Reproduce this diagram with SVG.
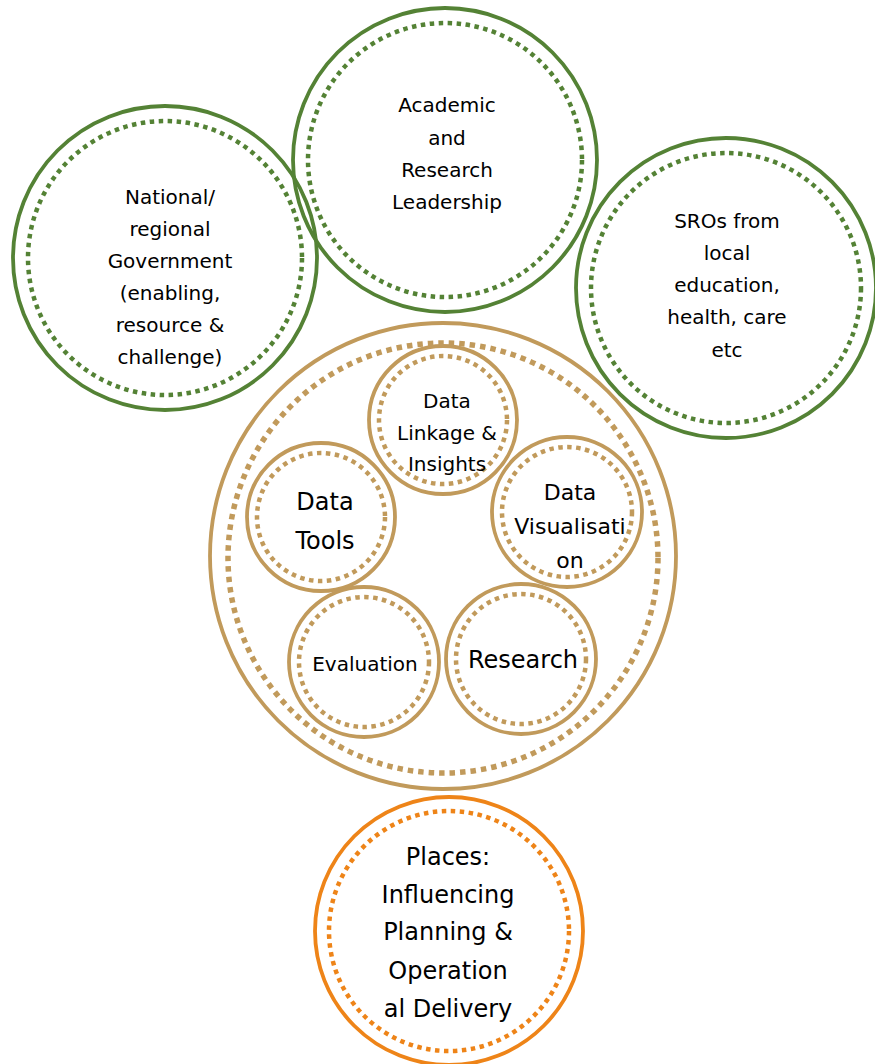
<svg xmlns="http://www.w3.org/2000/svg" width="875" height="1064" viewBox="0 0 875 1064">
  <style>
    .bg { fill: #ffffff; }
    .ring { fill: none; }
    .green { stroke: #548235; }
    .tan { stroke: #C19A5B; }
    .orange { stroke: #EE8418; }
    .solid { stroke-width: 3.8; }
    .dots { stroke-width: 4.5; stroke-dasharray: 4.5 4.5; }
    .dots-big { stroke-width: 5.5; stroke-dasharray: 5.5 5; }
    text { font-family: "DejaVu Sans", "Liberation Sans", sans-serif; fill: #000000; text-anchor: middle; }
    .t20 { font-size: 20px; }
    .t22 { font-size: 22px; }
    .t24 { font-size: 24px; }
  </style>
  <rect class="bg" x="0" y="0" width="875" height="1064"/>

  <g id="national-government">
    <circle class="ring green solid" cx="165" cy="258" r="152"/>
    <circle class="ring green dots" cx="165" cy="258" r="137"/>
    <text class="t20" x="170"><tspan x="170" y="204">National/</tspan><tspan x="170" y="236">regional</tspan><tspan x="170" y="268">Government</tspan><tspan x="170" y="300">(enabling,</tspan><tspan x="170" y="332">resource &amp;</tspan><tspan x="170" y="364">challenge)</tspan></text>
  </g>

  <g id="academic-leadership">
    <circle class="ring green solid" cx="445" cy="160" r="152"/>
    <circle class="ring green dots" cx="445" cy="160" r="137"/>
    <text class="t20"><tspan x="447" y="112">Academic</tspan><tspan x="447" y="145">and</tspan><tspan x="447" y="177">Research</tspan><tspan x="447" y="209">Leadership</tspan></text>
  </g>

  <g id="sros">
    <circle class="ring green solid" cx="726" cy="288" r="150"/>
    <circle class="ring green dots" cx="726" cy="288" r="135"/>
    <text class="t20"><tspan x="727" y="228">SROs from</tspan><tspan x="727" y="260">local</tspan><tspan x="727" y="292">education,</tspan><tspan x="727" y="324">health, care</tspan><tspan x="727" y="357">etc</tspan></text>
  </g>

  <g id="core">
    <circle class="ring tan solid" cx="443" cy="556" r="233"/>
    <circle class="ring tan dots-big" cx="443" cy="558" r="215"/>
  </g>

  <g id="data-linkage">
    <circle class="ring tan solid" cx="443" cy="420" r="74"/>
    <circle class="ring tan dots" cx="443" cy="420" r="64"/>
    <text class="t20"><tspan x="447" y="408">Data</tspan><tspan x="447" y="440">Linkage &amp;</tspan><tspan x="447" y="471">Insights</tspan></text>
  </g>

  <g id="data-tools">
    <circle class="ring tan solid" cx="321" cy="517" r="74"/>
    <circle class="ring tan dots" cx="321" cy="517" r="64"/>
    <text class="t24"><tspan x="325" y="510">Data</tspan><tspan x="325" y="549">Tools</tspan></text>
  </g>

  <g id="data-visualisation">
    <circle class="ring tan solid" cx="567" cy="512" r="75"/>
    <circle class="ring tan dots" cx="567" cy="512" r="65"/>
    <text class="t22"><tspan x="570" y="500">Data</tspan><tspan x="570" y="534">Visualisati</tspan><tspan x="570" y="568">on</tspan></text>
  </g>

  <g id="evaluation">
    <circle class="ring tan solid" cx="364" cy="662" r="75"/>
    <circle class="ring tan dots" cx="364" cy="662" r="65"/>
    <text class="t20" x="365" y="671">Evaluation</text>
  </g>

  <g id="research">
    <circle class="ring tan solid" cx="521" cy="659" r="75"/>
    <circle class="ring tan dots" cx="521" cy="659" r="65"/>
    <text class="t24" x="523" y="668">Research</text>
  </g>

  <g id="places">
    <circle class="ring orange solid" cx="449" cy="931" r="134"/>
    <circle class="ring orange dots" cx="449" cy="931" r="120"/>
    <text class="t24"><tspan x="448" y="865">Places:</tspan><tspan x="448" y="903">Influencing</tspan><tspan x="448" y="940">Planning &amp;</tspan><tspan x="448" y="979">Operation</tspan><tspan x="448" y="1017">al Delivery</tspan></text>
  </g>

  <g id="connectors"></g>
</svg>
